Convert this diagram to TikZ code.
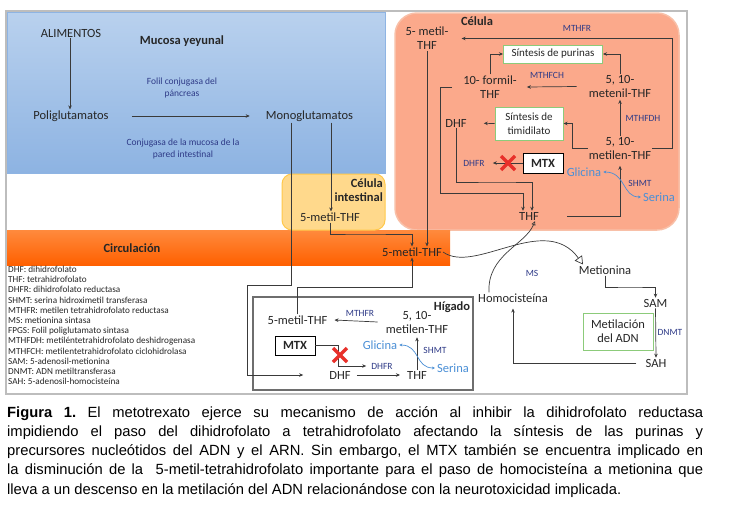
\documentclass[tikz,border=0pt]{standalone}
\usepackage{fontspec}
\setmainfont{Carlito}
\newfontfamily\capfont{Liberation Sans}
\usetikzlibrary{arrows.meta}
\definecolor{arrc}{HTML}{3A3A3A}
\definecolor{txtc}{HTML}{262626}
\definecolor{enzc}{HTML}{2E3A87}
\definecolor{glyc}{HTML}{4A8FD6}
\definecolor{gboxc}{HTML}{8CCB7A}
\definecolor{xred}{HTML}{E8302A}
\definecolor{frame}{HTML}{BDBDBD}
\definecolor{blueT}{HTML}{B9D1EE}
\definecolor{blueB}{HTML}{8DB3E2}
\definecolor{blueD}{HTML}{8EB4E3}
\definecolor{celf}{HTML}{FBA98B}
\definecolor{celd}{HTML}{F8C0A8}
\definecolor{circT}{HTML}{FF8A3D}
\definecolor{circB}{HTML}{FF6000}
\definecolor{intf}{HTML}{FFD98C}
\definecolor{intd}{HTML}{FFC84A}
\definecolor{higd}{HTML}{6E6E6E}
\begin{document}
\begin{tikzpicture}[x=1pt,y=-1pt,
 lbl/.style={font=\fontsize{12.5}{14}\selectfont, text=txtc, align=center, inner sep=1pt},
 bld/.style={lbl, font=\bfseries\fontsize{12.5}{14}\selectfont},
 enz/.style={font=\fontsize{9.5}{12}\selectfont, text=enzc, align=center, inner sep=1pt},
 bluet/.style={lbl, text=glyc},
 arr/.style={draw=arrc, line width=0.7pt, -{Stealth[length=4pt,width=3.5pt]}},
 barr/.style={draw=glyc, line width=0.7pt, {Stealth[length=3pt,width=3pt]}-{Stealth[length=3pt,width=3pt]}},
 gbox/.style={lbl, draw=gboxc, line width=1pt, fill=white, inner sep=2pt, font=\fontsize{11}{13.5}\selectfont},
 mtxbox/.style={bld, draw=black, line width=0.8pt, fill=white, minimum width=40pt, minimum height=20pt, inner sep=0pt},
 xmark/.style={draw=xred, line width=3.5pt},
 openarr/.style={draw=arrc, line width=0.7pt, -{Triangle[open,length=8pt,width=9pt]}},
 smallopen/.style={draw=arrc, line width=0.7pt, -{Triangle[open,length=4pt,width=4pt]}},
]
\useasboundingbox (0,0) rectangle (735,520);
% backgrounds
\draw[frame, line width=1.5pt] (6,11) rectangle (687,394);
\shade[top color=blueT, bottom color=blueB, draw=blueD, line width=1pt] (7,12) rectangle (385,173);
\draw[fill=celf, draw=celd, line width=1.5pt, rounded corners=22pt] (395,13) rectangle (679,230);
\shade[top color=circT, bottom color=circB] (7,230) rectangle (450,265);
\draw[fill=intf, draw=intd, line width=1pt, rounded corners=10pt] (282,174) rectangle (385,230);
\draw[higd, line width=1.3pt, fill=white] (253,297) rectangle (473,390);

% top region
\node[lbl] (alim) at (71,33) {ALIMENTOS};
\node[bld] (mucosa) at (182,41) {Mucosa yeyunal};
\node[lbl] (poli) at (71,116) {Poliglutamatos};
\node[lbl] (mono) at (309.5,116) {Monoglutamatos};
\node[enz] (folil) at (182,88) {Folil conjugasa del\\páncreas};
\node[enz] (conj) at (183,149) {Conjugasa de la mucosa de la\\pared intestinal};
\draw[arr] ([xshift=-1]alim.south) -- ([xshift=-1]alim.south |- poli.north);
\draw[arr, shorten <=22pt, shorten >=15pt] (poli.east) -- (mono.west);

% intestinal cell
\node[bld, align=right, anchor=east] (ci) at (384,190) {Célula\\intestinal};
\node[lbl] (mi) at (330,217) {5-metil-THF};
\draw[arr] ([xshift=21.5]mono.south) -- ([xshift=21.5]mono.south |- mi.north);

% circulation
\node[bld] (circ) at (132,248) {Circulación};
\node[lbl] (mc) at (412,252) {5-metil-THF};
\coordinate (kG) at (360,234);
\draw[arr] (mi.south) |- (kG) -| (mc.north);

% Celula
\node[bld] (celula) at (477,21) {Célula};
\node[lbl] (m5) at (427,38.5) {5- metil-\\THF};
\node[enz] (mthfr1) at (577,28) {MTHFR};
\node[lbl] (metilen) at (620,148.5) {5, 10-\\metilen-THF};
\node[lbl] (metenil) at (620,86.5) {5, 10-\\metenil-THF};
\node[lbl] (formil) at (490,87) {10- formil-\\THF};
\node[gbox, minimum width=99pt, minimum height=18pt] (purinas) at (553,54) {Síntesis de purinas};
\node[gbox, minimum width=68pt, minimum height=33pt] (timid) at (529,123.5) {Síntesis de\\timidilato};
\node[lbl] (dhfC) at (456,123) {DHF};
\node[lbl] (thfC) at (529,216) {THF};
\node[mtxbox] (mtxC) at (543,163) {MTX};
\node[enz] (dhfrC) at (474,163) {DHFR};
\node[enz] (mthfch) at (547,75) {MTHFCH};
\node[enz] (mthfdh) at (643,118) {MTHFDH};
\node[enz] (shmtC) at (640,183) {SHMT};
\node[bluet] (glyC) at (584,172) {Glicina};
\node[bluet] (serC) at (659,197) {Serina};

\draw[arr] (m5.south) -- (m5.south |- mc.north);
\coordinate (kR) at (672,38.5);
\draw[arr] (metilen.east) -| (kR) -- ([xshift=12pt]m5.east);
\draw[arr] (formil.north) |- (purinas.west);
\draw[arr] (metenil.north) |- (purinas.east);
\draw[arr] ([xshift=-11pt]metenil.west) -- ([xshift=9pt]formil.east);
\draw[arr, shorten >=1pt] (metilen.north) -- (metenil.south);
\draw[arr] (metilen.west) -- ++(-15,0) |- (timid.east);
\draw[arr, shorten >=16pt] (timid.west) -- (dhfC.east);
\coordinate (kC) at (500,182);
\draw[arr] (dhfC.south) |- (kC) -| ([xshift=3pt]thfC.north);
\coordinate (kD) at (440,193);
\draw[arr] ([xshift=-10pt]formil.west) -| (kD) -| ([xshift=-6pt]thfC.north);
\draw[arr, shorten >=5pt] ([xshift=27pt]thfC.east) -| (metilen.south);
\draw[arr, shorten >=7pt] (mtxC.west) -- (dhfrC.east);
\draw[xmark] (501,156) -- (515,170) (501,170) -- (515,156);
\draw[barr, shorten <=1pt, shorten >=1pt] (serC.west) .. controls (622,197) and (626,172) .. (glyC.east);

% Higado
\node[bld] (higado) at (452,307) {Hígado};
\node[lbl] (mh) at (297.5,320) {5-metil-THF};
\node[enz] (mthfrH) at (360,313) {MTHFR};
\node[lbl] (metilenH) at (417,322) {5, 10-\\metilen-THF};
\node[mtxbox, minimum height=19pt] (mtxH) at (295,345.5) {MTX};
\node[lbl] (dhfH) at (340,375) {DHF};
\node[lbl] (thfH) at (417,375) {THF};
\node[enz] (dhfrH) at (382,366) {DHFR};
\node[bluet] (glyH) at (380,345) {Glicina};
\node[enz] (shmtH) at (435,350) {SHMT};
\node[bluet] (serH) at (453,368) {Serina};

\coordinate (kA) at (247,285);
\draw[arr] ([xshift=-18.5pt]mono.south) |- (kA) |- ([xshift=-25pt]dhfH.west);
\coordinate (kB) at (350,287);
\draw[arr] (mh.north) -- (mh.north |- kB) -| (mc.south);
\draw[arr] ([xshift=-7pt]metilenH.west) -- ([xshift=6pt]mh.east);
\coordinate (kF) at (338,345.5);
\draw[arr, shorten >=4pt] (mtxH.east) -- (kF) |- (dhfrH.west);
\draw[xmark] (333,348) -- (347,362) (333,362) -- (347,348);
\draw[arr, shorten <=5pt, shorten >=6pt] (dhfH.east) -- (thfH.west);
\draw[arr, shorten >=3pt] (thfH.north) -- (metilenH.south);
\draw[barr, shorten <=1pt, shorten >=1pt] (serH.west) .. controls (415,368) and (420,345) .. (glyH.east);

% right side
\node[lbl] (metio) at (605,270) {Metionina};
\node[lbl] (sam) at (655.5,303) {SAM};
\node[lbl] (sah) at (656,363) {SAH};
\node[lbl] (homo) at (513,298) {Homocisteína};
\node[enz] (ms) at (532,273) {MS};
\node[gbox, minimum width=70pt, minimum height=37pt, font=\fontsize{12.5}{14}\selectfont] (metil) at (618,331.5) {Metilación\\del ADN};
\node[enz] (dnmt) at (670,332) {DNMT};

\coordinate (kM) at (630,287);
\draw[arr] (metio.south) |- (kM) -| (sam.north);
\draw[arr] (sam.south) -- (sah.north);
\draw[arr, shorten <=8pt, shorten >=5pt] (sah.west) -| (homo.south);
\draw[openarr] (mc.east) .. controls (475,275) and (545,212) .. ([xshift=-22pt]metio.north);
\draw[smallopen] ([xshift=-24pt]homo.north) .. controls (487,255) and (525,245) .. ([xshift=6pt]thfC.south);

% legend
\node[anchor=north west, inner sep=0pt, align=left, text=txtc, font=\fontsize{9.2}{10.2}\selectfont] (leg) at (8,266) {DHF: dihidrofolato\\
THF: tetrahidrofolato\\
DHFR: dihidrofolato reductasa\\
SHMT: serina hidroximetil transferasa\\
MTHFR: metilen tetrahidrofolato reductasa\\
MS: metionina sintasa\\
FPGS: Folil poliglutamato sintasa\\
MTHFDH: metiléntetrahidrofolato deshidrogenasa\\
MTHFCH: metilentetrahidrofolato ciclohidrolasa\\
SAM: 5-adenosil-metionina\\
DNMT: ADN metiltransferasa\\
SAH: 5-adenosil-homocisteína};

% caption
\node[anchor=north west, inner sep=0pt, text width=696pt, align=justify, text=black, font=\capfont\fontsize{14.75}{19.3}\selectfont\frenchspacing] (cap) at (7,406) {\textbf{Figura 1.} El metotrexato ejerce su mecanismo de acción al inhibir la dihidrofolato reductasa\linebreak impidiendo el paso del dihidrofolato a tetrahidrofolato afectando la síntesis de las purinas y\linebreak precursores nucleótidos del ADN y el ARN. Sin embargo, el MTX también se encuentra implicado en\linebreak la disminución de la \ 5-metil-tetrahidrofolato importante para el paso de homocisteína a metionina que\linebreak lleva a un descenso en la metilación del ADN relacionándose con la neurotoxicidad implicada.};
\end{tikzpicture}
\end{document}
